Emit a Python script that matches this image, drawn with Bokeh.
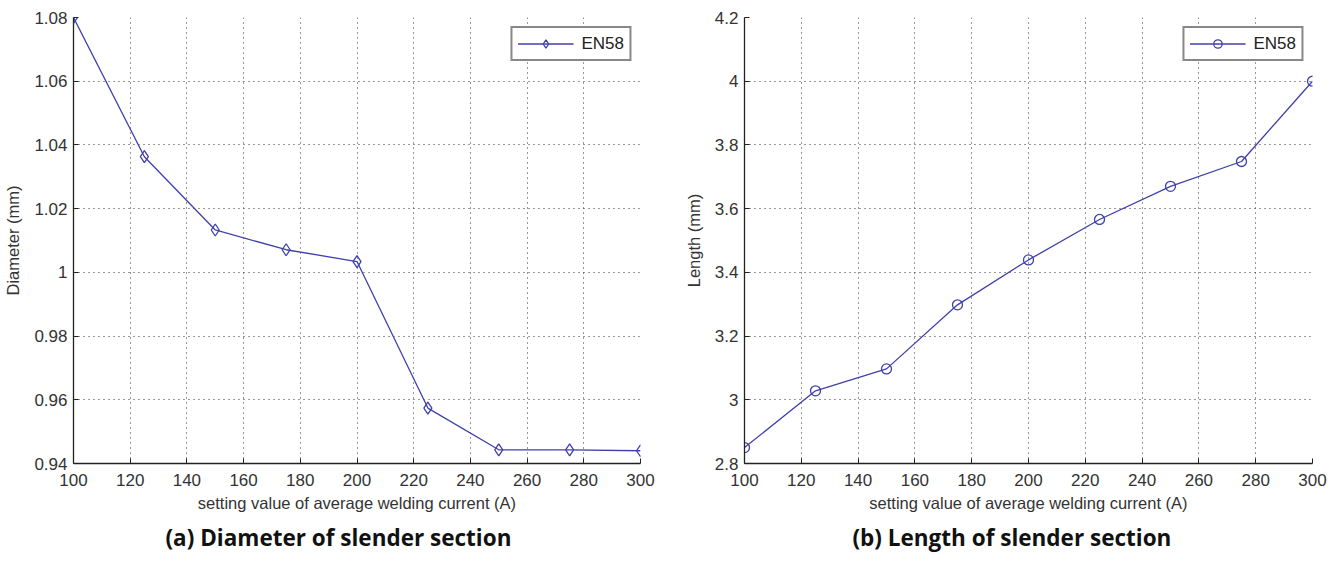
from bokeh.plotting import figure
from bokeh.layouts import row
from bokeh.models import Range1d, FixedTicker, PrintfTickFormatter, Title
from bokeh.embed import file_html
from bokeh.resources import INLINE

# ---- data ----
current = [100, 125, 150, 175, 200, 225, 250, 275, 300]
diameter = [1.080, 1.0363, 1.0133, 1.0071, 1.0034, 0.9574, 0.9443, 0.9443, 0.9440]
length = [2.85, 3.028, 3.097, 3.298, 3.439, 3.566, 3.670, 3.748, 4.000]

x_ticks = [100, 120, 140, 160, 180, 200, 220, 240, 260, 280, 300]
d_ticks = [0.94, 0.96, 0.98, 1.0, 1.02, 1.04, 1.06, 1.08]
l_ticks = [2.8, 3.0, 3.2, 3.4, 3.6, 3.8, 4.0, 4.2]

series_name = "EN58"
x_label = "setting value of average welding current (A)"
d_label = "Diameter (mm)"
l_label = "Length (mm)"
caption_a = "(a) Diameter of slender section"
caption_b = "(b) Length of slender section"

LINE = "#4040aa"
FONT = "Liberation Sans"
TXT = "#333333"


def make(ys, yr, yt, ylabel, marker, msize, caption, left, right, cap_off):
    p = figure(width=669, height=564, output_backend="svg", toolbar_location=None,
               x_range=Range1d(100, 300), y_range=Range1d(*yr),
               min_border_left=left, min_border_right=right,
               min_border_top=17, min_border_bottom=101)
    p.outline_line_color = None
    p.background_fill_color = "white"
    p.border_fill_color = "white"

    for ax in (p.xaxis[0], p.yaxis[0]):
        ax.axis_line_color = "#222222"
        ax.axis_line_width = 1.3
        ax.major_tick_in = 5
        ax.major_tick_out = 0
        ax.minor_tick_line_color = None
        ax.major_tick_line_color = "#222222"
        ax.major_label_text_font = FONT
        ax.major_label_text_font_size = "17px"
        ax.major_label_text_color = TXT
        ax.axis_label_text_font = FONT
        ax.axis_label_text_font_size = "16.5px"
        ax.axis_label_text_font_style = "normal"
        ax.axis_label_text_color = TXT
        ax.formatter = PrintfTickFormatter(format="%g")

    p.xaxis[0].ticker = FixedTicker(ticks=x_ticks)
    p.yaxis[0].ticker = FixedTicker(ticks=yt)
    p.xaxis[0].axis_label = x_label
    p.yaxis[0].axis_label = ylabel
    p.xaxis[0].major_label_standoff = 10
    p.yaxis[0].major_label_standoff = 6
    p.xaxis[0].axis_label_standoff = 5
    p.yaxis[0].axis_label_standoff = 9

    for g in (p.xgrid[0], p.ygrid[0]):
        g.grid_line_color = "#333333"
        g.grid_line_dash = "1 4"
        g.grid_line_width = 1.1

    p.line(current, ys, line_color=LINE, line_width=1.3, legend_label=series_name)
    p.scatter(current, ys, marker=marker, size=msize, line_color=LINE, line_width=1.3,
              fill_color=None, legend_label=series_name)

    lg = p.legend[0]
    lg.location = "top_right"
    lg.margin = 9
    lg.padding = 5
    lg.spacing = 0
    lg.glyph_width = 56
    lg.glyph_height = 21
    lg.label_height = 21
    lg.label_standoff = 8
    lg.label_text_font = FONT
    lg.label_text_font_size = "17px"
    lg.label_text_color = "#222222"
    lg.border_line_color = "#111111"
    lg.border_line_width = 2
    lg.background_fill_alpha = 1

    t = Title(text=caption, align="left", offset=cap_off, standoff=11,
              text_font="Open Sans", text_font_size="22.5px", text_font_style="bold",
              text_color="#111111")
    p.add_layout(t, "below")
    return p


p1 = make(diameter, (0.94, 1.08), d_ticks, d_label, "diamond", 12, caption_a, 73, 29, 92)
p2 = make(length, (2.8, 4.2), l_ticks, l_label, "circle", 10, caption_b, 75, 26, 108)

layout = row(p1, p2)
open("out.html", "w").write(file_html(layout, INLINE))
